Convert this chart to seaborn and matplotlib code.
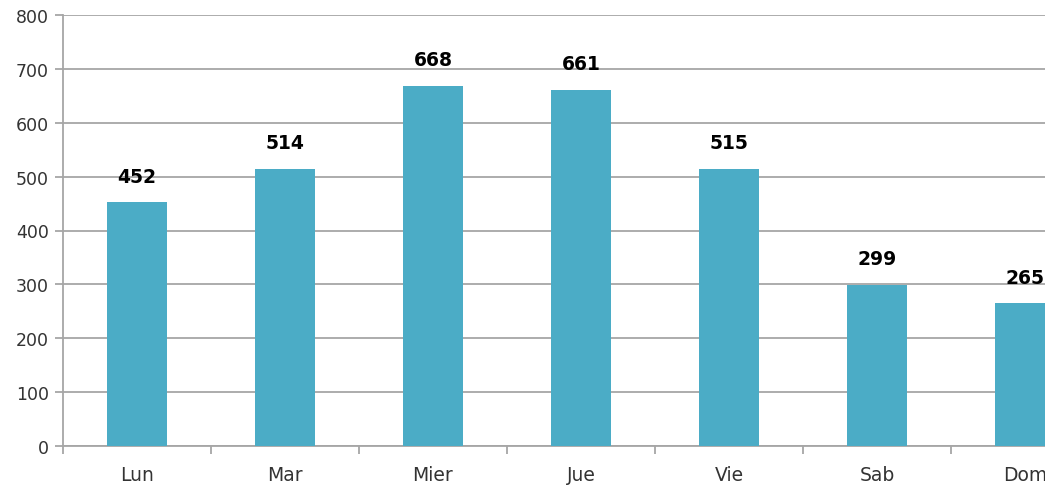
import matplotlib
matplotlib.use("Agg")
import matplotlib.pyplot as plt
import seaborn as sns
import numpy as np

dias = ["Lun", "Mar", "Mier", "Jue", "Vie", "Sab", "Dom"]
valores = [452, 514, 668, 661, 515, 299, 265]
y_ticks = [0, 100, 200, 300, 400, 500, 600, 700, 800]

sns.set_style("white")
plt.rcParams["font.family"] = ["DejaVu Sans"]

fig = plt.figure(figsize=(10.45, 4.89), dpi=100)
W, H = 1045, 489
ax = fig.add_axes([63 / W, 42 / H, (1099 - 63) / W, (447 - 16) / H])

sns.barplot(x=dias, y=valores, color="#4BACC6", width=0.405, saturation=1,
            edgecolor="none", ax=ax, zorder=3)

ax.set_xlim(-0.5, 6.5)
ax.set_ylim(0, 800)
ax.set_yticks(y_ticks)
ax.set_yticklabels([str(v) for v in y_ticks], fontsize=12.5, color="#333333")
ax.yaxis.grid(True, color="#a6a6a6", linewidth=1.3, zorder=0)
ax.set_axisbelow(True)

for s in ["top", "right"]:
    ax.spines[s].set_visible(False)
for s in ["left", "bottom"]:
    ax.spines[s].set_color("#a6a6a6")
    ax.spines[s].set_linewidth(1.3)

ax.tick_params(axis="y", length=6, color="#a6a6a6", width=1.3, pad=4, left=True)
ax.tick_params(axis="x", which="major", length=0, pad=14, labelsize=13.5, labelcolor="#333333")
ax.set_xticks(np.arange(-0.5, 7.0, 1.0), minor=True)
ax.tick_params(axis="x", which="minor", length=6, color="#a6a6a6", width=1.3, bottom=True)
ax.set_xlabel("")
ax.set_ylabel("")

for i, v in enumerate(valores):
    ax.annotate(str(v), (i, v), xytext=(0, 12), textcoords="offset points",
                ha="center", va="bottom", fontsize=13.5, fontweight="bold",
                color="black", zorder=4)

fig.savefig("out.png", dpi=100)
